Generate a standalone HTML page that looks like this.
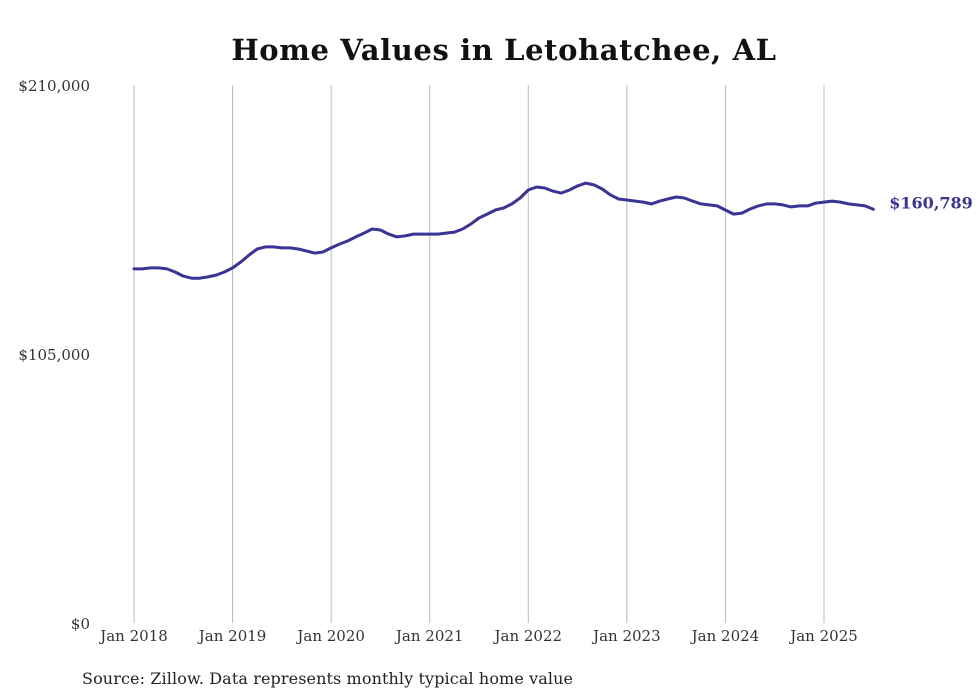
<!DOCTYPE html>
<html><head><meta charset="utf-8"><style>
body{margin:0;background:#fff;}
svg{display:block;font-family:"DejaVu Serif","Liberation Serif",serif;}
</style></head><body>
<svg id="chart" width="980" height="699">
<text x="504" y="60" text-anchor="middle" font-size="29" font-weight="bold" fill="#111" letter-spacing="0.6">Home Values in Letohatchee, AL</text>
<g id="grid"></g><g id="yaxis"></g><g id="xaxis"></g><g id="series"></g>
<text x="82" y="684" font-size="16" fill="#222" textLength="491">Source: Zillow. Data represents monthly typical home value</text>
</svg>
<script>
const yTicks=[0,105000,210000];
const yTickLabels=["$0","$105,000","$210,000"];
const xTickYears=[2018,2019,2020,2021,2022,2023,2024,2025];
const xTickLabels=["Jan 2018","Jan 2019","Jan 2020","Jan 2021","Jan 2022","Jan 2023","Jan 2024","Jan 2025"];
const startYear=2018;
const valuesK=[
138.2,138.2,138.6,138.6,138.2,137.0,135.4,134.6,134.6,135.1,135.8,137.0,
138.6,140.9,143.6,146.0,146.8,146.8,146.4,146.4,146.0,145.2,144.4,144.8,
146.4,147.9,149.1,150.7,152.2,153.8,153.4,151.8,150.7,151.1,151.8,151.8,
151.8,151.8,152.2,152.6,153.8,155.7,158.1,159.6,161.2,162.0,163.6,165.9,
169.0,170.2,169.8,168.6,167.8,169.0,170.6,171.7,171.0,169.4,167.1,165.5,
165.1,164.7,164.3,163.6,164.7,165.5,166.3,165.9,164.7,163.6,163.2,162.8,
161.2,159.6,160.0,161.6,162.8,163.6,163.6,163.2,162.4,162.8,162.8,163.9,
164.3,164.7,164.3,163.6,163.2,162.8,161.5];
const lastLabel="$160,789";
const NS="http://www.w3.org/2000/svg";
const x=m=>134+m*(690/84);
const y=v=>623-v/210000*538;
function mk(t,a,p){const e=document.createElementNS(NS,t);for(const k in a)e.setAttribute(k,a[k]);p.appendChild(e);return e;}
const grid=document.getElementById('grid'),ya=document.getElementById('yaxis'),xa=document.getElementById('xaxis'),se=document.getElementById('series');
xTickYears.forEach((yr,i)=>{const m=(yr-startYear)*12;
const l=mk('line',{x1:x(m),x2:x(m),y1:85,y2:623,stroke:'#bbb','stroke-width':1},grid);


const t=mk('text',{x:x(m),y:641,'text-anchor':'middle','font-size':15,fill:'#333'},xa);t.textContent=xTickLabels[i];

});
yTicks.forEach((v,i)=>{const t=mk('text',{x:90,y:y(v)+6,'text-anchor':'end','font-size':15,fill:'#333'},ya);t.textContent=yTickLabels[i];

});
const pts=valuesK.map((v,i)=>x(i).toFixed(1)+','+y(v*1000).toFixed(1));
const p=mk('polyline',{points:pts.join(' '),fill:'none',stroke:'#3a3496','stroke-width':3,'stroke-linejoin':'round','stroke-linecap':'round'},se);


const n=valuesK.length-1;
const lt=mk('text',{x:x(n)+16,y:y(valuesK[n]*1000)-1,'font-size':16,'font-weight':'bold',fill:'#3a3496'},se);lt.textContent=lastLabel;


</script>
</body></html>
